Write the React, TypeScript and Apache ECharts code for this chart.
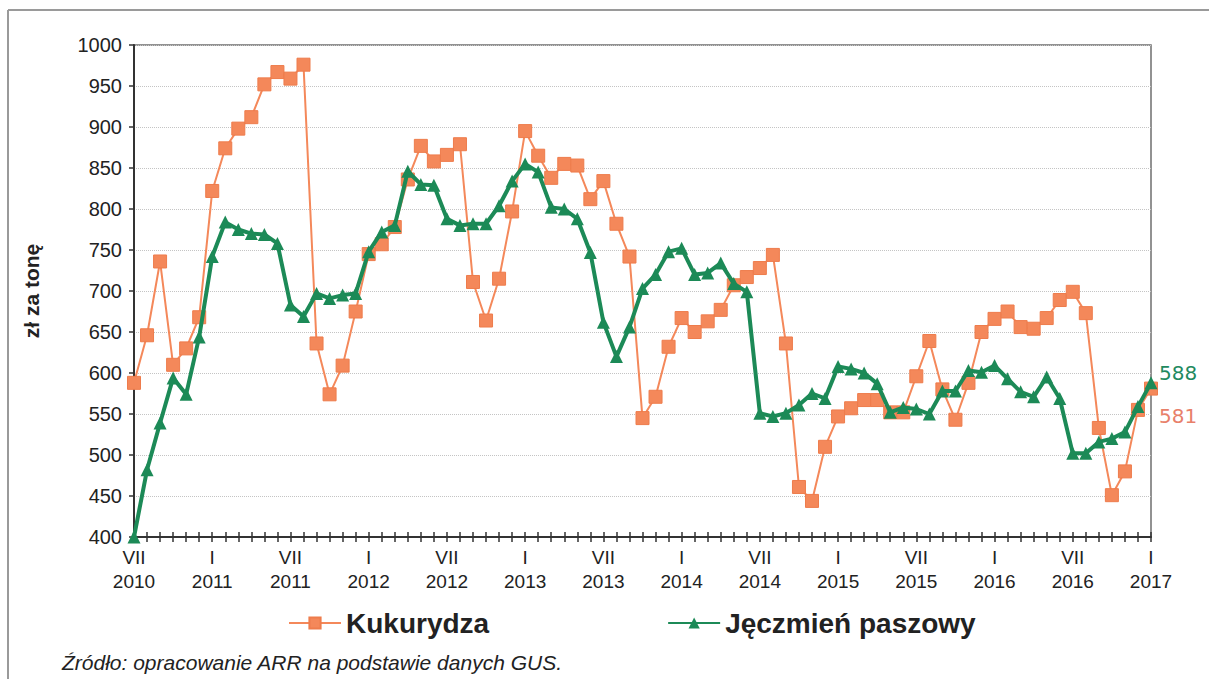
import React, { useEffect, useRef } from "react";
import * as echarts from "echarts";

const romanMonths = ["VII", "VIII", "IX", "X", "XI", "XII", "I", "II", "III", "IV", "V", "VI"];
const startYear = 2010;
const monthCount = 79;

const kukurydza = [
  588, 646, 736, 610, 630, 668, 822, 874, 898, 912,
  952, 967, 959, 976, 636, 574, 609, 675, 745, 757,
  778, 836, 877, 858, 866, 879, 711, 664, 715, 797,
  895, 865, 838, 855, 853, 812, 834, 782, 742, 545,
  571, 632, 667, 650, 663, 677, 707, 717, 728, 744,
  636, 461, 444, 510, 547, 557, 567, 567, 552, 552,
  596, 639, 580, 543, 588, 650, 666, 675, 656, 654,
  667, 689, 699, 673, 533, 451, 480, 555, 581,
];

const jeczmien = [
  400, 482, 539, 594, 574, 644, 742, 784, 775, 770,
  769, 758, 683, 669, 697, 691, 695, 697, 748, 772,
  780, 846, 830, 829, 788, 780, 782, 782, 804, 834,
  855, 845, 802, 800, 788, 747, 662, 620, 656, 703,
  720, 748, 752, 720, 722, 734, 709, 699, 551, 547,
  551, 561, 575, 569, 608, 605, 600, 587, 552, 558,
  556, 550, 578, 578, 603, 601, 609, 593, 577, 571,
  595, 569, 502, 502, 516, 520, 528, 559, 588,
];

const yTicks = { min: 400, max: 1000, interval: 50 };

const categories: string[] = [];
for (let i = 0; i < monthCount; i++) {
  const m = romanMonths[i % 12];
  const year = startYear + Math.floor((i + 6) / 12);
  categories.push(m + "\n" + year);
}

const ORANGE = "#F4885A";
const GREEN = "#1C8A57";
const TEXT = "#222222";

export default function App() {
  const ref = useRef<HTMLDivElement>(null);
  useEffect(() => {
    if (!ref.current) return;
    const chart = echarts.init(ref.current, null, { renderer: "svg" });
    const font = "'Liberation Sans', Arial, sans-serif";
    chart.setOption({
      animation: false,
      backgroundColor: "#ffffff",
      grid: {
        left: 134,
        top: 45,
        right: 58,
        bottom: 142,
        show: true,
        borderColor: "#6f6f6f",
        borderWidth: 1.5,
        backgroundColor: "transparent",
      },
      legend: {
        left: 283,
        top: 604,
        itemWidth: 52,
        itemHeight: 14,
        itemGap: 178,
        textStyle: { fontFamily: font, fontSize: 28, fontWeight: "bold", color: TEXT },
        data: ["Kukurydza", "Jęczmień paszowy"],
      },
      xAxis: [
        {
          type: "category",
          data: categories,
          boundaryGap: false,
          position: "bottom",
          axisLine: { lineStyle: { color: "#333333", width: 2 } },
          axisTick: { show: true, interval: 0, length: 5, lineStyle: { color: "#333333", width: 1.5 } },
          axisLabel: {
            interval: 5,
            margin: 8,
            fontFamily: font,
            fontSize: 19,
            lineHeight: 24,
            color: TEXT,
            showMaxLabel: true,
          },
          splitLine: { show: false },
        },
        {
          type: "category",
          data: categories,
          boundaryGap: false,
          position: "bottom",
          offset: 0,
          axisLine: { show: false },
          axisTick: { show: true, inside: true, interval: 0, length: 5, lineStyle: { color: "#333333", width: 1.5 } },
          axisLabel: { show: false },
          splitLine: { show: false },
        },
      ],
      yAxis: {
        type: "value",
        min: yTicks.min,
        max: yTicks.max,
        interval: yTicks.interval,
        name: "zł za tonę",
        nameLocation: "middle",
        nameGap: 92,
        nameTextStyle: { fontFamily: font, fontSize: 21, fontWeight: "bold", color: TEXT },
        axisLine: { show: true, lineStyle: { color: "#333333", width: 2 } },
        axisTick: { show: true, length: 5, lineStyle: { color: "#333333", width: 1.5 } },
        axisLabel: {
          margin: 12,
          fontFamily: font,
          fontSize: 20,
          color: TEXT,
          formatter: (v: number) => String(v),
        },
        splitLine: { show: true, lineStyle: { color: "#c4c4c4", type: "dotted", width: 1 } },
      },
      series: [
        {
          name: "Kukurydza",
          type: "line",
          data: kukurydza,
          symbol: "rect",
          symbolSize: 13,
          showAllSymbol: true,
          lineStyle: { color: ORANGE, width: 2 },
          itemStyle: { color: ORANGE, borderColor: "#ee7c4c", borderWidth: 1 },
          endLabel: {
            show: true,
            formatter: (p: any) => String(p.value),
            color: "#E8806A",
            fontFamily: "'DejaVu Sans', sans-serif",
            fontSize: 20,
            distance: 8,
            offset: [0, 27],
          },
          z: 2,
        },
        {
          name: "Jęczmień paszowy",
          type: "line",
          data: jeczmien,
          symbol: "triangle",
          symbolSize: 13,
          showAllSymbol: true,
          lineStyle: { color: GREEN, width: 4 },
          itemStyle: { color: GREEN },
          endLabel: {
            show: true,
            formatter: (p: any) => String(p.value),
            color: "#1F8A60",
            fontFamily: "'DejaVu Sans', sans-serif",
            fontSize: 20,
            distance: 8,
            offset: [0, -10],
          },
          z: 3,
        },
      ],
      graphic: [
        { type: "line", shape: { x1: 8, y1: 10, x2: 1209, y2: 10 }, style: { stroke: "#9a9a9a", lineWidth: 2 } },
        { type: "line", shape: { x1: 8, y1: 10, x2: 8, y2: 679 }, style: { stroke: "#9a9a9a", lineWidth: 2 } },
        {
          type: "text",
          left: 62,
          top: 652,
          style: {
            text: "Źródło: opracowanie ARR na podstawie danych GUS.",
            font: "italic 21px 'Liberation Sans', Arial, sans-serif",
            fill: TEXT,
          },
        },
      ],
    });
    return () => chart.dispose();
  }, []);
  return (
    <div
      ref={ref}
      style={{ position: "absolute", left: 0, top: 0, width: 1209, height: 679, background: "#fff" }}
    />
  );
}
